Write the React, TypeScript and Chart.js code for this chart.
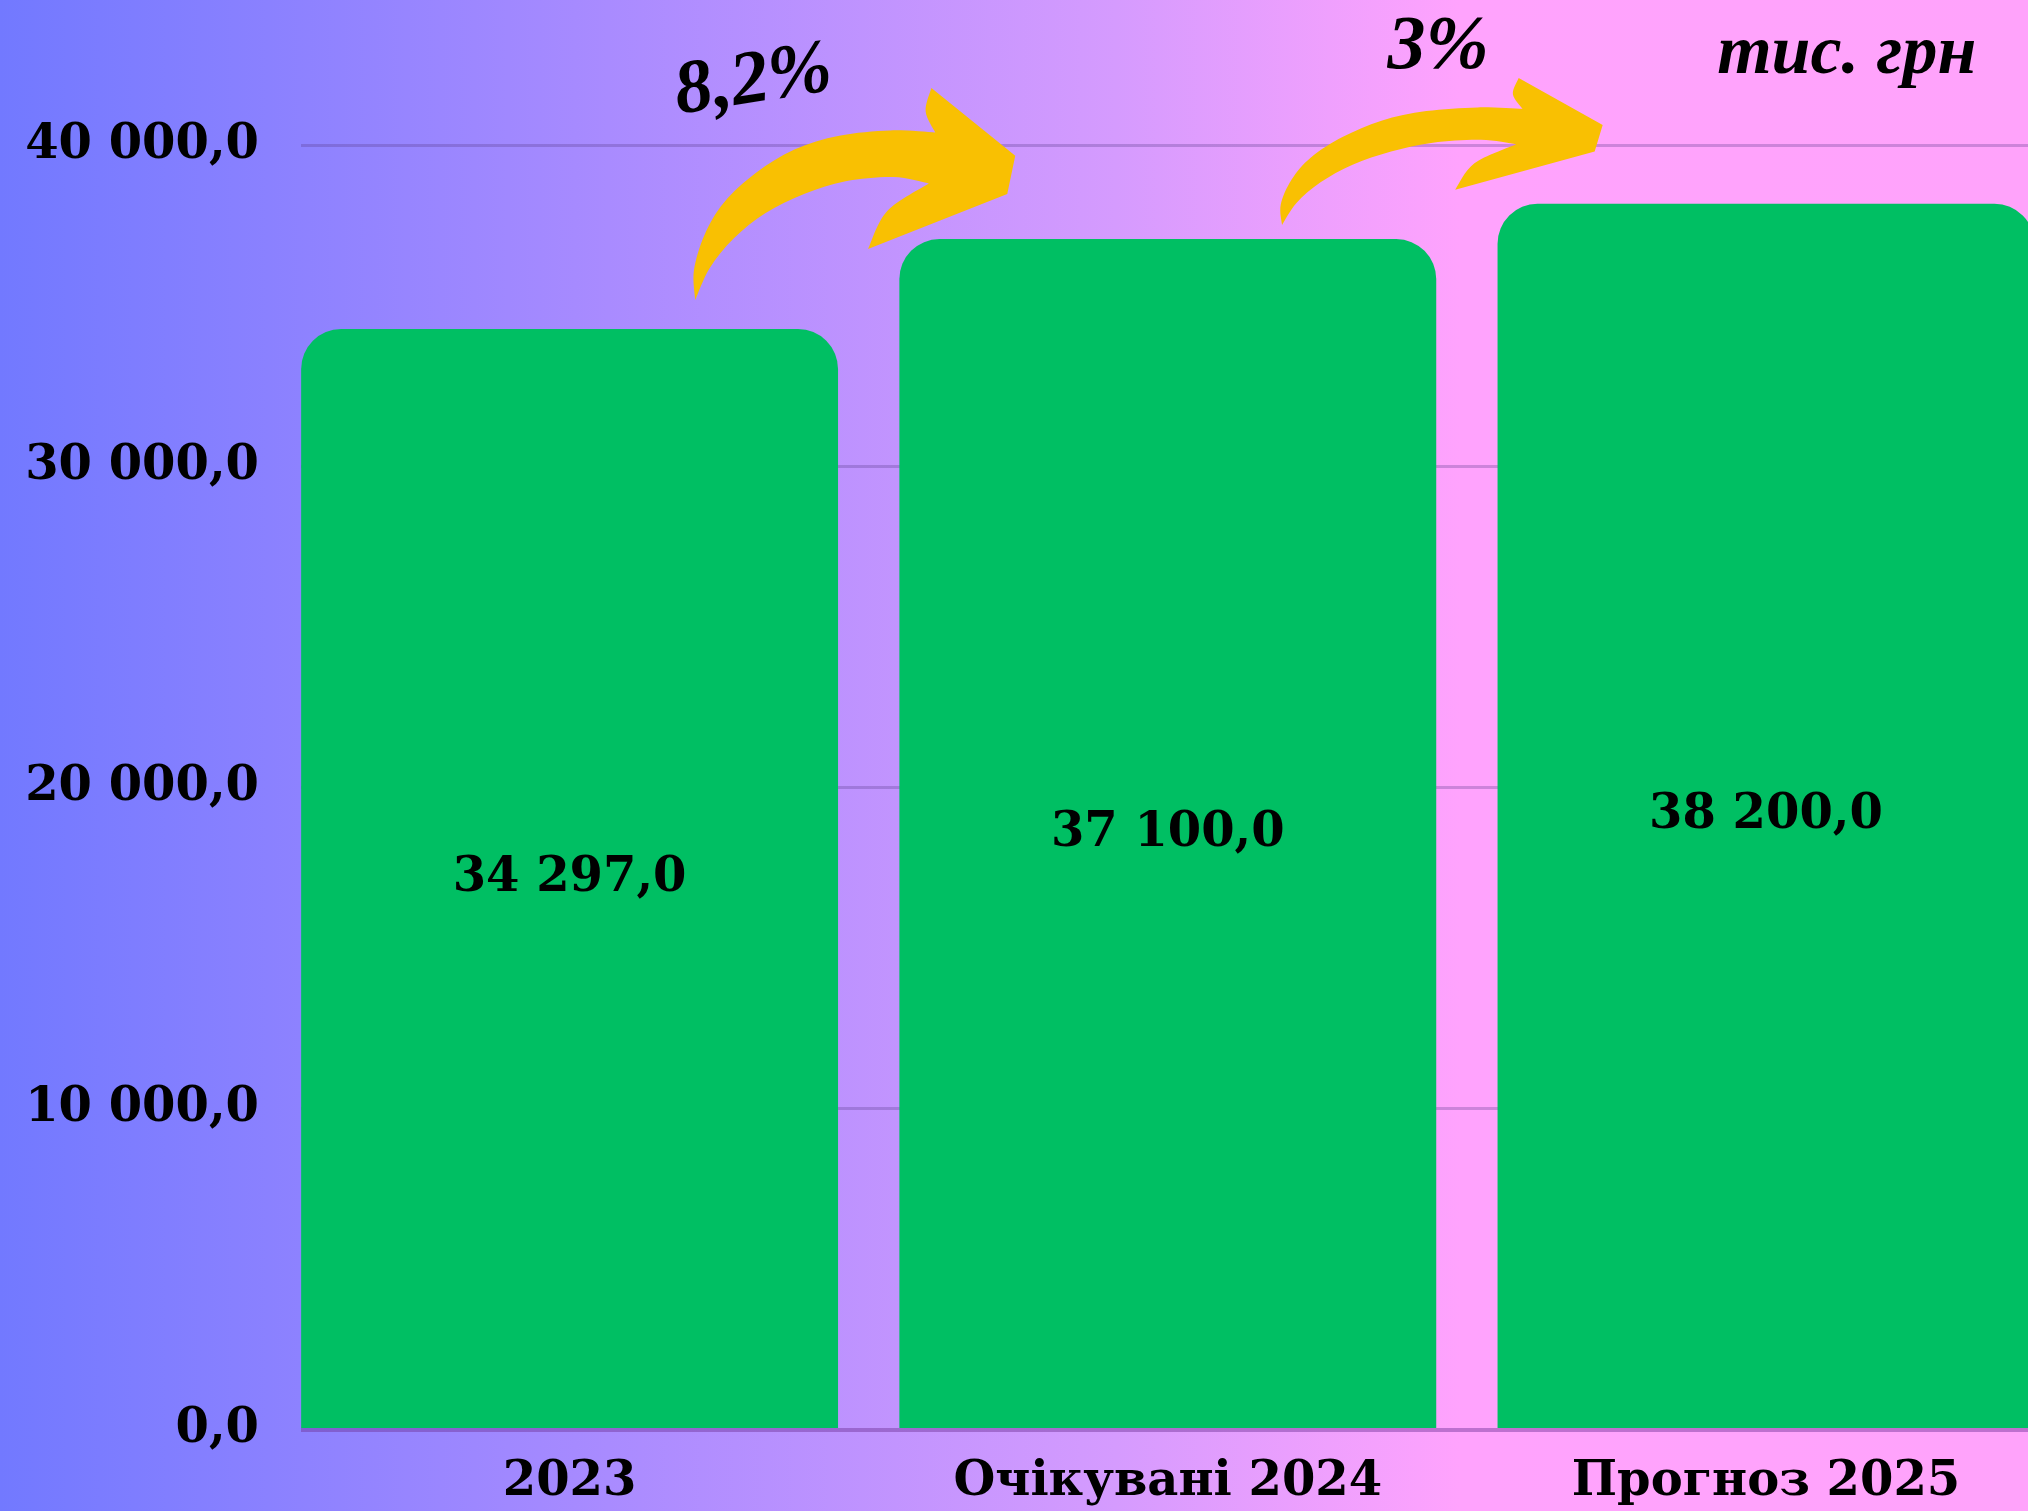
import React, { useEffect, useRef } from 'react';
import { Chart, registerables } from 'chart.js';

Chart.register(...registerables);

// ---- data ----
const categories = ['2023', 'Очікувані 2024', 'Прогноз 2025'];
const values = [34297.0, 37100.0, 38200.0];
const yTicks = [0, 10000, 20000, 30000, 40000];
const growthLabels = ['8,2%', '3%'];
const unitLabel = 'тис. грн';

// annotation anchors in data space (x = category index, y = value units)
const growthLabelX = [0.307, 1.452];
const growthLabelY = [41990, 42430];
const growthLabelAngle = [-9, 0];
const unitLabelX = 2.135;
const unitLabelY = 42280;
const arrowFromX = [0.21, 1.191];
const arrowToX = [0.745, 1.727];
const arrowTopY = [41807, 42118];
const arrowTailY = [35202, 37539];

// normalised arrow outline (u: 0..1 left→right, v: 0..1 top→bottom)
const arrowShape: number[][] = [
  [0, 1], [-0.004, 0.86], [0.03, 0.69], [0.09, 0.54], [0.19, 0.4], [0.31, 0.29], [0.45, 0.225],
  [0.61, 0.2], [0.75, 0.21], [0.72, 0.11], [0.738, 0], [1, 0.32], [0.975, 0.5], [0.54, 0.76],
  [0.6, 0.58], [0.73, 0.45], [0.62, 0.42], [0.47, 0.44], [0.34, 0.5], [0.22, 0.59], [0.12, 0.71],
  [0.045, 0.85],
];
const arrowPieces = [
  [0, 1, 2, 3, 4, 5, 6, 7, 8],
  [8, 9, 10],
  [10, 11],
  [11, 12],
  [12, 13],
  [13, 14, 15],
  [15, 16, 17, 18, 19, 20, 21, 0],
];

function fmt(v: number): string {
  const [i, d] = v.toFixed(1).split('.');
  return i.replace(/\B(?=(\d{3})+(?!\d))/g, ' ') + ',' + d;
}

const labelFont = { family: '"DejaVu Serif", serif', weight: 'bold' as const, size: 48 };

function drawArrow(ctx: CanvasRenderingContext2D, x0: number, y0: number, x1: number, y1: number) {
  const P = arrowShape.map(([u, v]) => [x0 + u * (x1 - x0), y0 + v * (y1 - y0)]);
  ctx.beginPath();
  ctx.moveTo(P[0][0], P[0][1]);
  for (const piece of arrowPieces) {
    const pts = piece.map((k) => P[k]);
    const n = pts.length;
    if (n === 2) {
      ctx.lineTo(pts[1][0], pts[1][1]);
      continue;
    }
    for (let i = 0; i < n - 1; i++) {
      const p0 = pts[Math.max(i - 1, 0)];
      const p1 = pts[i];
      const p2 = pts[i + 1];
      const p3 = pts[Math.min(i + 2, n - 1)];
      const c1x = p1[0] + (p2[0] - p0[0]) / 6;
      const c1y = p1[1] + (p2[1] - p0[1]) / 6;
      const c2x = p2[0] - (p3[0] - p1[0]) / 6;
      const c2y = p2[1] - (p3[1] - p1[1]) / 6;
      ctx.bezierCurveTo(c1x, c1y, c2x, c2y, p2[0], p2[1]);
    }
  }
  ctx.closePath();
  ctx.fill();
}

const annotationsPlugin = {
  id: 'annotations',
  afterDatasetsDraw(chart: any) {
    const ctx: CanvasRenderingContext2D = chart.ctx;
    const xs = chart.scales.x;
    const ys = chart.scales.y;
    const meta = chart.getDatasetMeta(0);
    ctx.save();
    // value labels inside bars
    ctx.font = 'bold 48px "DejaVu Serif", serif';
    ctx.fillStyle = '#000';
    ctx.textAlign = 'center';
    ctx.textBaseline = 'middle';
    meta.data.forEach((el: any, i: number) => {
      const { x, y, base } = el.getProps(['x', 'y', 'base'], true);
      ctx.fillText(fmt(values[i]), x, (y + base) / 2);
    });
    // arrows
    ctx.fillStyle = '#F9C002';
    for (let i = 0; i < arrowFromX.length; i++) {
      drawArrow(
        ctx,
        xs.getPixelForValue(arrowFromX[i]),
        ys.getPixelForValue(arrowTopY[i]),
        xs.getPixelForValue(arrowToX[i]),
        ys.getPixelForValue(arrowTailY[i])
      );
    }
    // growth labels
    ctx.fillStyle = '#000';
    ctx.font = 'italic bold 76px "Liberation Serif", serif';
    for (let i = 0; i < growthLabels.length; i++) {
      ctx.save();
      ctx.translate(xs.getPixelForValue(growthLabelX[i]), ys.getPixelForValue(growthLabelY[i]));
      ctx.rotate((growthLabelAngle[i] * Math.PI) / 180);
      ctx.textBaseline = growthLabelAngle[i] !== 0 ? 'middle' : 'alphabetic';
      ctx.fillText(growthLabels[i], 0, 0);
      ctx.restore();
    }
    // unit label
    ctx.font = 'italic bold 70px "Liberation Serif", serif';
    ctx.textBaseline = 'alphabetic';
    ctx.fillText(unitLabel, xs.getPixelForValue(unitLabelX), ys.getPixelForValue(unitLabelY));
    ctx.restore();
  },
};

export default function App() {
  const ref = useRef<HTMLCanvasElement>(null);
  useEffect(() => {
    const chart = new Chart(ref.current as HTMLCanvasElement, {
      type: 'bar',
      data: {
        datasets: [
          {
            data: values.map((v, i) => ({ x: i, y: v })),
            backgroundColor: '#00BF63',
            borderWidth: 0,
            borderRadius: 40,
            borderSkipped: 'start',
            barPercentage: 0.8975,
            categoryPercentage: 1,
          },
        ],
      },
      options: {
        responsive: false,
        animation: false,
        devicePixelRatio: 1,
        layout: { padding: 0 },
        plugins: { legend: { display: false }, tooltip: { enabled: false } },
        scales: {
          x: {
            type: 'linear',
            offset: false,
            min: -0.449,
            max: 2.438,
            grid: { display: false, drawTicks: false, offset: false },
            border: { display: false },
            ticks: {
              stepSize: 1,
              includeBounds: false,
              autoSkip: false,
              maxRotation: 0,
              minRotation: 0,
              padding: 24,
              color: '#000',
              font: labelFont,
              callback: (v: any) => categories[Number(v)] ?? '',
            },
            afterBuildTicks: (s: any) => {
              s.ticks = categories.map((_, i) => ({ value: i }));
            },
            afterFit: (s: any) => {
              s.height = 81;
              s.paddingLeft = 0;
              s.paddingRight = 0;
            },
          },
          y: {
            min: 0,
            max: 44548,
            grid: {
              drawTicks: false,
              color: (c: any) => (c.tick && c.tick.value === 0 ? 'rgba(110,50,150,0.45)' : 'rgba(90,60,140,0.3)'),
              lineWidth: (c: any) => (c.tick && c.tick.value === 0 ? 4 : 3),
            },
            border: { display: false },
            ticks: {
              includeBounds: false,
              padding: 42,
              color: '#000',
              font: labelFont,
              callback: (v: any) => fmt(Number(v)),
            },
            afterBuildTicks: (s: any) => {
              s.ticks = yTicks.map((value) => ({ value }));
            },
            afterFit: (s: any) => {
              s.width = 301;
              s.paddingTop = 0;
              s.paddingBottom = 0;
            },
          },
        },
      },
      plugins: [annotationsPlugin],
    } as any);
    return () => chart.destroy();
  }, []);
  return (
    <div
      style={{
        position: 'fixed',
        left: 0,
        top: 0,
        width: 2028,
        height: 1511,
        overflow: 'hidden',
        background: 'linear-gradient(90deg, #7279FF 0%, #A98BFF 30%, #D59BFE 55%, #FFA3FD 72%, #FFA3FB 100%)',
      }}
    >
      <canvas ref={ref} width={2028} height={1511} style={{ display: 'block' }} />
    </div>
  );
}
